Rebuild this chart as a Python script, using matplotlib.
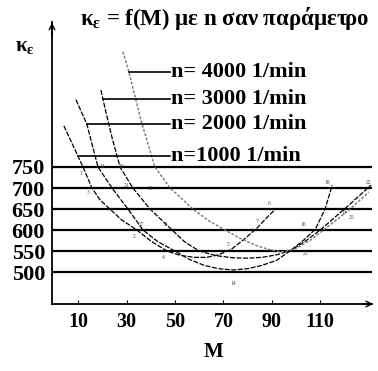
import numpy as np
import matplotlib.pyplot as plt

plt.rcParams['font.family'] = ['Liberation Serif', 'DejaVu Serif']
plt.rcParams['font.weight'] = 'bold'
plt.rcParams['mathtext.fontset'] = 'custom'
plt.rcParams['mathtext.rm'] = 'Liberation Serif:bold'
plt.rcParams['mathtext.it'] = 'Liberation Serif:bold'

# levels of the horizontal reference lines
levels = [750, 700, 650, 600, 550, 500]
ytick_labels = ["750", "700", "650", "600", "550", "500"]
xticks = [10, 30, 50, 70, 90, 110]

# curves (M, kappa_epsilon)
m_1000 = [4.1, 9.9, 12, 15.7, 19, 23.1, 28, 34.3, 40, 46.7, 52, 58, 63, 68, 73.5, 79, 84.3, 88, 92]
k_1000 = [848, 776, 750, 700, 672, 650, 624, 600, 574, 550, 540, 535, 535, 541, 555, 580, 607, 630, 652]

m_2000 = [9.1, 13.6, 18.2, 24, 30.6, 36.8, 43, 50, 56, 62, 68, 74, 80, 86, 92, 97, 103, 108, 112, 115]
k_2000 = [910, 852, 750, 700, 650, 600, 572, 550, 530, 516, 508, 505, 508, 516, 528, 548, 575, 602, 650, 707]

m_3000 = [19.4, 20.2, 24, 27.3, 32.6, 39.7, 48.8, 54, 60, 67, 74, 80, 86, 92, 98, 104, 110, 116, 122, 131]
k_3000 = [933, 912, 820, 750, 700, 650, 600, 572, 550, 539, 534, 533, 535, 541, 552, 574, 600, 630, 660, 707]

m_4000 = [28.5, 31, 36, 41.7, 48, 57.4, 64, 70.7, 77, 84, 90, 95, 100, 106, 114, 122, 130]
k_4000 = [1024, 976, 860, 750, 700, 650, 622, 600, 580, 562, 552, 548, 556, 576, 612, 648, 690]

# legend leaders: start M on the curve and level
lead_m = [31, 20.2, 13.6, 9.9]
lead_k = [976, 912, 852, 776]
lead_txt = ["n= 4000 1/min", "n= 3000 1/min", "n= 2000 1/min", "n=1000 1/min"]

fig = plt.figure(figsize=(3.78, 3.71), dpi=100)
ax = fig.add_axes([52 / 378, 67 / 371, 320 / 378, 282 / 371])
ax.set_xlim(-0.8, 131.4)
ax.set_ylim(424, 1095)

for k in levels:
    ax.plot([-0.8, 131.4], [k, k], color="black", lw=1.6, solid_capstyle="butt")

ax.plot(m_1000, k_1000, color="black", lw=0.9, ls=(0, (4, 1.2)))
ax.plot(m_2000, k_2000, color="black", lw=0.9, ls=(0, (4, 1.2)))
ax.plot(m_3000, k_3000, color="black", lw=0.9, ls=(0, (4, 1.2)))
ax.plot(m_4000, k_4000, color="#777777", lw=1.0, ls=(0, (2, 1.2)))

for m, k, t in zip(lead_m, lead_k, lead_txt):
    ax.plot([m, 48], [k, k], color="black", lw=1.2)
    ax.text(48.3, k, t, fontsize=16, va="center", ha="left")

# small point numbers from the scan
nums = [(11, 735, "1"), (14, 690, "3"), (33, 585, "2"), (45, 535, "4"),
        (72, 565, "5"), (89, 662, "6"), (84, 620, "7"), (74, 472, "14"),
        (103, 612, "16"), (113, 712, "18"), (120, 640, "17"),
        (130, 712, "22"), (123, 630, "25"), (104, 545, "23"), (36, 612, "27"),
        (46, 612, "32"), (20, 752, "14"), (28, 752, "20"), (30, 705, "21"), (40, 700, "35")]
for m, k, t in nums:
    ax.text(m, k, t, fontsize=4, color="#444444", ha="center", va="center", fontweight="normal")

for s in ["top", "right"]:
    ax.spines[s].set_visible(False)
ax.spines["left"].set_linewidth(1.3)
ax.spines["bottom"].set_linewidth(1.3)
ax.annotate("", xy=(-0.8, 1100), xytext=(-0.8, 1050),
            arrowprops=dict(arrowstyle="->", lw=1.0, color="black"), annotation_clip=False)
ax.annotate("", xy=(133, 424), xytext=(126, 424),
            arrowprops=dict(arrowstyle="->", lw=1.0, color="black"), annotation_clip=False)

ax.set_xticks(xticks)
ax.set_xticklabels([str(v) for v in xticks], fontsize=14.5)
ax.set_yticks(levels)
ax.set_yticklabels(ytick_labels, fontsize=16)
ax.tick_params(axis="x", direction="in", length=3, width=0.8, pad=6)
ax.tick_params(axis="y", direction="in", length=2, width=0.8, pad=5)

fig.text(213 / 378, 1 - 352 / 371, "M", fontsize=15, ha="center", va="center")
fig.text(15 / 378, 1 - 46 / 371, "κ$_{ε}$", fontsize=15, ha="left", va="center")
fig.text(80 / 378, 1 - 18 / 371, "κ$_{ε}$ = f(M) με n σαν παράμετρο", fontsize=16.5,
         ha="left", va="center")

fig.savefig("out.png", dpi=100)
